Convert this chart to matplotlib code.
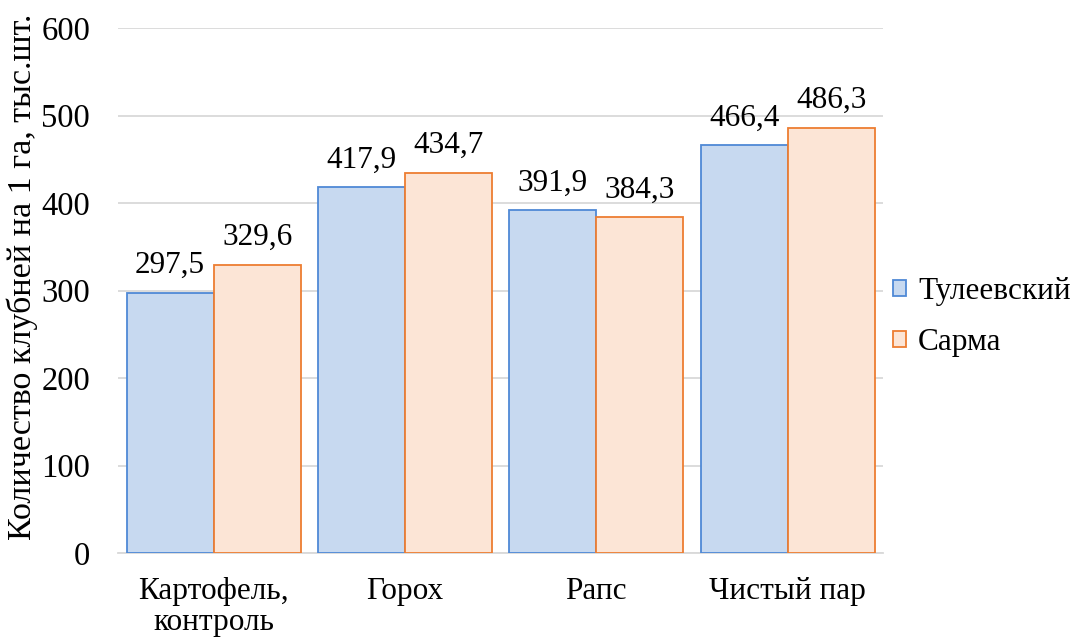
import numpy as np
import matplotlib.pyplot as plt

plt.rcParams['font.family'] = ['Liberation Serif', 'DejaVu Serif']

# data
categories = ['Картофель,\nконтроль', 'Горох', 'Рапс', 'Чистый пар']
tuleevsky = [297.5, 417.9, 391.9, 466.4]
sarma = [329.6, 434.7, 384.3, 486.3]
series_names = ['Тулеевский', 'Сарма']

FS = 22.5

fig = plt.figure(figsize=(10.72, 6.44), dpi=100)
ax = fig.add_axes([0.110, 0.1413, 0.714, 0.815])

x = np.arange(len(categories))
w = 0.455
b1 = ax.bar(x - w / 2, tuleevsky, w, color='#c7d9f0', edgecolor='#4f89d6',
            linewidth=1.3, label=series_names[0], zorder=3)
b2 = ax.bar(x + w / 2, sarma, w, color='#fce5d6', edgecolor='#ed7d31',
            linewidth=1.3, label=series_names[1], zorder=3)

for bars in (b1, b2):
    for r in bars:
        v = r.get_height()
        ax.annotate(f'{v:.1f}'.replace('.', ','),
                    (r.get_x() + r.get_width() / 2, v),
                    xytext=(0, 14), textcoords='offset points',
                    ha='center', va='baseline', fontsize=FS)

ax.set_xlim(-0.5, len(categories) - 0.5)
ax.set_ylim(0, 600)
ax.set_yticks(range(0, 601, 100))
ax.set_xticks(x)
ax.set_xticklabels(categories, fontsize=FS, linespacing=1.12)
ax.tick_params(axis='y', labelsize=23.5, length=0, pad=20)
ax.tick_params(axis='x', length=0, pad=17)
ax.grid(axis='y', color='#d9d9d9', linewidth=1.3, zorder=0)
for s in ['top', 'right', 'left']:
    ax.spines[s].set_visible(False)
ax.spines['bottom'].set_color('#d9d9d9')
ax.spines['bottom'].set_linewidth(1.3)
ax.set_ylabel('Количество клубней на 1 га, тыс.шт.', fontsize=24.5)
ax.yaxis.set_label_coords(-0.104, 0.526)

ax.legend(loc='center left', bbox_to_anchor=(1.012, 0.45), frameon=False,
          fontsize=FS, handlelength=0.42, handleheight=0.42, handletextpad=0.4,
          labelspacing=0.7, borderaxespad=0, borderpad=0)

plt.savefig('out.png', dpi=100)
